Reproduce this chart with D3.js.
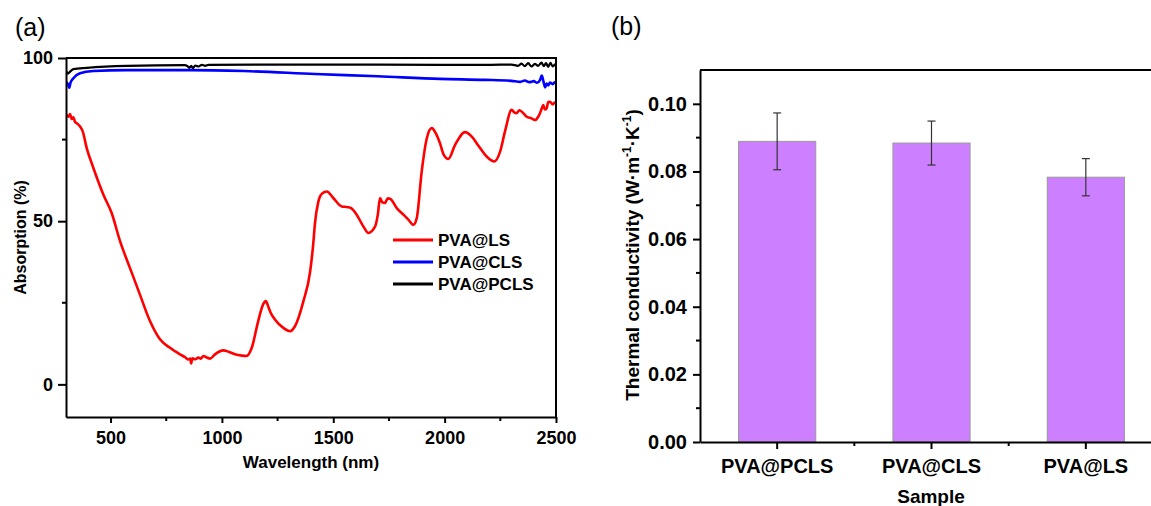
<!DOCTYPE html>
<html>
<head>
<meta charset="utf-8">
<script src="https://cdn.jsdelivr.net/npm/d3@7"></script>
<style>
    body { margin: 0; background: #fff; }
    svg { display: block; font-family: "Liberation Sans", Arial, sans-serif; }
</style>
</head>
<body>
<div id="chart"></div>
<script>
// ---------------------------------------------------------------------------
// Data
// ---------------------------------------------------------------------------
// (a) absorption spectra
const lsWavelength = [302, 312, 318, 326, 333, 340, 352, 363, 375, 393, 423, 468, 505, 543, 587, 632, 677, 722, 767, 812,
    835, 849, 858, 862, 867, 880, 894, 905, 917, 930, 947, 969, 1006, 1030, 1059, 1090, 1111, 1134, 1163, 1185,
    1197, 1210, 1220, 1238, 1276, 1306, 1328, 1366, 1396, 1410, 1418, 1433, 1450, 1471, 1500, 1538, 1565, 1580, 1605, 1635,
    1657, 1688, 1700, 1710, 1720, 1732, 1745, 1755, 1785, 1815, 1837, 1860, 1875, 1897, 1920, 1942, 1960, 1979, 1995, 2017,
    2047, 2092, 2122, 2151, 2189, 2223, 2249, 2271, 2301, 2315, 2324, 2335, 2349, 2369, 2390, 2406, 2420, 2428, 2436, 2443,
    2450, 2458, 2465, 2473, 2485, 2496];
const lsAbsorption = [82.6, 82.0, 82.8, 81.3, 81.8, 80.5, 79.8, 79.0, 77.5, 72.4, 66.3, 58.1, 52.5, 43.8, 35.7, 27.5, 19.4, 13.8, 11.2, 9.2,
    8.3, 7.6, 7.9, 6.4, 8.0, 7.7, 8.2, 7.9, 8.7, 8.3, 7.9, 9.2, 10.4, 10.0, 9.2, 8.8, 8.7, 11.2, 19.4, 24.5,
    25.5, 23.5, 21.8, 19.9, 17.3, 16.3, 17.8, 25.5, 34.5, 43.0, 49.5, 56.0, 58.5, 59.1, 57.1, 54.5, 54.3, 54.0, 52.0, 48.4,
    46.4, 48.4, 52.0, 57.1, 55.8, 55.6, 57.0, 56.9, 54.0, 52.0, 50.5, 48.9, 51.0, 65.2, 75.4, 78.5, 77.0, 73.9, 70.5, 69.1,
    73.4, 77.3, 75.9, 73.2, 69.8, 68.3, 71.3, 77.5, 84.1, 83.2, 83.1, 84.0, 83.4, 82.0, 81.5, 81.0, 82.0, 83.1, 84.5, 85.6,
    84.2, 84.6, 86.5, 86.6, 85.8, 86.6];

const clsWavelength = [302, 310, 315, 320, 333, 363, 423, 573, 857, 1100, 1418, 1700, 1979, 2181, 2300, 2340, 2360, 2380, 2400, 2415,
    2428, 2436, 2443, 2451, 2458, 2465, 2473, 2485, 2496];
const clsAbsorption = [92.6, 91.8, 90.9, 92.4, 93.8, 95.3, 96.0, 96.3, 96.3, 96.0, 95.1, 94.4, 93.6, 93.3, 93.0, 92.7, 93.1, 92.6, 92.9, 92.4,
    93.2, 94.6, 93.0, 91.0, 92.2, 91.6, 92.5, 92.0, 92.8];

const pclsWavelength = [302, 308, 315, 333, 393, 573, 834, 845, 855, 862, 870, 880, 895, 910, 925, 940, 1418, 1979, 2200, 2300,
    2330, 2345, 2360, 2375, 2390, 2405, 2420, 2435, 2445, 2455, 2465, 2475, 2485, 2496];
const pclsAbsorption = [95.9, 95.2, 95.6, 96.6, 97.0, 97.6, 97.8, 97.5, 97.0, 97.6, 96.9, 97.7, 97.4, 97.9, 97.6, 97.9, 98.0, 97.9, 97.9, 98.0,
    97.6, 98.3, 97.5, 98.4, 97.4, 98.2, 97.6, 98.6, 97.5, 98.4, 97.3, 98.5, 97.4, 98.2];

const seriesNames = ['PVA@LS', 'PVA@CLS', 'PVA@PCLS'];
const seriesColors = ['#ff0000', '#0000ff', '#000000'];

// (b) thermal conductivity
const samples = ['PVA@PCLS', 'PVA@CLS', 'PVA@LS'];
const conductivity = [0.0889, 0.0884, 0.0783];
const conductivityErr = [0.0084, 0.0065, 0.0055];

const xTicksA = [500, 1000, 1500, 2000, 2500];
const xMinorA = [750, 1250, 1750, 2250];
const yTicksA = [0, 50, 100];
const yMinorA = [25, 75];
const yTicksB = [0, 0.02, 0.04, 0.06, 0.08, 0.10];
const yMinorB = [0.01, 0.03, 0.05, 0.07, 0.09];

// ---------------------------------------------------------------------------
// Canvas
// ---------------------------------------------------------------------------
const W = 1151, H = 506;
const svg = d3.select('#chart').append('svg')
    .attr('width', W)
    .attr('height', H);

const font = '"Liberation Sans", Arial, sans-serif';

// ---------------------------------------------------------------------------
// Panel (a) - absorption spectra
// ---------------------------------------------------------------------------
const a = { left: 66, right: 556, top: 58, bottom: 417 };

const xA = d3.scaleLinear().domain([300, 2500]).range([a.left, a.right]);
const yA = d3.scaleLinear().domain([-10, 100]).range([a.bottom, a.top]);

const gA = svg.append('g');

gA.append('clipPath').attr('id', 'clipA')
    .append('rect')
    .attr('x', a.left).attr('y', a.top)
    .attr('width', a.right - a.left).attr('height', a.bottom - a.top);

const seriesA = [
    { name: 'PVA@PCLS', x: pclsWavelength, y: pclsAbsorption, width: 2.2 },
    { name: 'PVA@CLS', x: clsWavelength, y: clsAbsorption, width: 2.6 },
    { name: 'PVA@LS', x: lsWavelength, y: lsAbsorption, width: 2.6 }
];
const colorA = d3.scaleOrdinal().domain(seriesNames).range(seriesColors);

const line = d3.line()
    .x(d => xA(d[0]))
    .y(d => yA(d[1]))
    .curve(d3.curveMonotoneX);

gA.append('g').attr('clip-path', 'url(#clipA)')
    .selectAll('path')
    .data(seriesA)
    .enter()
    .append('path')
    .attr('d', s => line(s.x.map((v, i) => [v, s.y[i]])))
    .attr('fill', 'none')
    .attr('stroke', s => colorA(s.name))
    .attr('stroke-width', s => s.width)
    .attr('stroke-linejoin', 'round');

// axes
const xAxisA = gA.append('g')
    .attr('transform', `translate(0,${a.bottom})`)
    .call(d3.axisBottom(xA).tickValues(xTicksA).tickFormat(d3.format('d'))
        .tickSize(6).tickPadding(8).tickSizeOuter(0));
xAxisA.selectAll('.minor')
    .data(xMinorA).enter().append('line')
    .attr('x1', d => xA(d)).attr('x2', d => xA(d))
    .attr('y1', 0).attr('y2', 4);

const yAxisA = gA.append('g')
    .attr('transform', `translate(${a.left},0)`)
    .call(d3.axisLeft(yA).tickValues(yTicksA).tickSize(8).tickPadding(5).tickSizeOuter(0));
yAxisA.selectAll('.minor')
    .data(yMinorA).enter().append('line')
    .attr('x1', 0).attr('x2', -4)
    .attr('y1', d => yA(d)).attr('y2', d => yA(d));

[xAxisA, yAxisA].forEach(ax => {
    ax.select('.domain').attr('stroke', '#000').attr('stroke-width', 2);
    ax.selectAll('line').attr('stroke', '#000').attr('stroke-width', 2);
    ax.selectAll('text')
        .attr('fill', '#000')
        .style('font-family', font)
        .style('font-size', '18px')
        .style('font-weight', 'bold');
});

// frame top + right
gA.append('path')
    .attr('d', `M${a.left},${a.top}H${a.right}V${a.bottom}`)
    .attr('fill', 'none')
    .attr('stroke', '#000')
    .attr('stroke-width', 2);

// titles
gA.append('text')
    .attr('x', (a.left + a.right) / 2).attr('y', 468)
    .attr('text-anchor', 'middle')
    .style('font-size', '17px').style('font-weight', 'bold')
    .text('Wavelength (nm)');

gA.append('text')
    .attr('transform', `translate(26,${(a.top + a.bottom) / 2}) rotate(-90)`)
    .attr('text-anchor', 'middle')
    .style('font-size', '16px').style('font-weight', 'bold')
    .text('Absorption (%)');

gA.append('text')
    .attr('x', 15).attr('y', 36)
    .style('font-size', '25px')
    .text('(a)');

// legend
const legendA = gA.append('g').attr('transform', 'translate(393,240)');
seriesNames.forEach((name, i) => {
    const row = legendA.append('g').attr('transform', `translate(0,${i * 22})`);
    row.append('line')
        .attr('x1', 0).attr('x2', 40)
        .attr('stroke', colorA(name)).attr('stroke-width', 3);
    row.append('text')
        .attr('x', 45).attr('y', 6)
        .style('font-size', '17px').style('font-weight', 'bold')
        .text(name);
});

// ---------------------------------------------------------------------------
// Panel (b) - thermal conductivity bars
// ---------------------------------------------------------------------------
const b = { left: 700, right: 1163, top: 70, bottom: 442 };

const xB = d3.scaleBand().domain(samples).range([b.left, b.right]).padding(0);
const yB = d3.scaleLinear().domain([0, 0.11]).range([b.bottom, b.top]);
const barW = xB.bandwidth() / 2;

const gB = svg.append('g');

gB.selectAll('.bar')
    .data(samples)
    .enter()
    .append('rect')
    .attr('class', 'bar')
    .attr('x', d => xB(d) + (xB.bandwidth() - barW) / 2)
    .attr('y', (d, i) => yB(conductivity[i]))
    .attr('width', barW)
    .attr('height', (d, i) => yB(0) - yB(conductivity[i]))
    .attr('fill', '#cc80ff')
    .attr('stroke', '#999')
    .attr('stroke-width', 1);

// error bars
const err = gB.selectAll('.err')
    .data(samples)
    .enter()
    .append('g')
    .attr('class', 'err')
    .attr('stroke', '#333')
    .attr('stroke-width', 1.2);
const cx = d => xB(d) + xB.bandwidth() / 2;
err.append('line')
    .attr('x1', cx).attr('x2', cx)
    .attr('y1', (d, i) => yB(conductivity[i] + conductivityErr[i]))
    .attr('y2', (d, i) => yB(conductivity[i] - conductivityErr[i]));
err.append('line')
    .attr('x1', d => cx(d) - 4).attr('x2', d => cx(d) + 4)
    .attr('y1', (d, i) => yB(conductivity[i] + conductivityErr[i]))
    .attr('y2', (d, i) => yB(conductivity[i] + conductivityErr[i]));
err.append('line')
    .attr('x1', d => cx(d) - 4).attr('x2', d => cx(d) + 4)
    .attr('y1', (d, i) => yB(conductivity[i] - conductivityErr[i]))
    .attr('y2', (d, i) => yB(conductivity[i] - conductivityErr[i]));

// axes
const xAxisB = gB.append('g')
    .attr('transform', `translate(0,${b.bottom})`)
    .call(d3.axisBottom(xB).tickSize(7).tickPadding(10).tickSizeOuter(0));
xAxisB.selectAll('.minor')
    .data(samples.slice(1)).enter().append('line')
    .attr('x1', d => xB(d)).attr('x2', d => xB(d))
    .attr('y1', 0).attr('y2', 4);

const yAxisB = gB.append('g')
    .attr('transform', `translate(${b.left},0)`)
    .call(d3.axisLeft(yB).tickValues(yTicksB).tickFormat(d3.format('.2f')).tickSize(7).tickPadding(6).tickSizeOuter(0));
yAxisB.selectAll('.minor')
    .data(yMinorB).enter().append('line')
    .attr('x1', 0).attr('x2', -4)
    .attr('y1', d => yB(d)).attr('y2', d => yB(d));

[xAxisB, yAxisB].forEach(ax => {
    ax.select('.domain').attr('stroke', '#000').attr('stroke-width', 2);
    ax.selectAll('line').attr('stroke', '#000').attr('stroke-width', 2);
    ax.selectAll('text')
        .attr('fill', '#000')
        .style('font-family', font)
        .style('font-size', '20px')
        .style('font-weight', 'bold');
});

// frame top
gB.append('line')
    .attr('x1', b.left).attr('x2', b.right)
    .attr('y1', b.top).attr('y2', b.top)
    .attr('stroke', '#000').attr('stroke-width', 2);

// titles
gB.append('text')
    .attr('x', 931).attr('y', 503)
    .attr('text-anchor', 'middle')
    .style('font-size', '19px').style('font-weight', 'bold')
    .text('Sample');

const yTitleB = gB.append('text')
    .attr('transform', 'translate(639,255) rotate(-90)')
    .attr('text-anchor', 'middle')
    .style('font-size', '19px').style('font-weight', 'bold');
yTitleB.append('tspan').text('Thermal conductivity (W·m');
yTitleB.append('tspan').attr('dy', -8).style('font-size', '12px').text('-1');
yTitleB.append('tspan').attr('dy', 8).text('·K');
yTitleB.append('tspan').attr('dy', -8).style('font-size', '12px').text('-1');
yTitleB.append('tspan').attr('dy', 8).text(')');

gB.append('text')
    .attr('x', 611).attr('y', 35)
    .style('font-size', '25px')
    .text('(b)');
</script>
</body>
</html>
